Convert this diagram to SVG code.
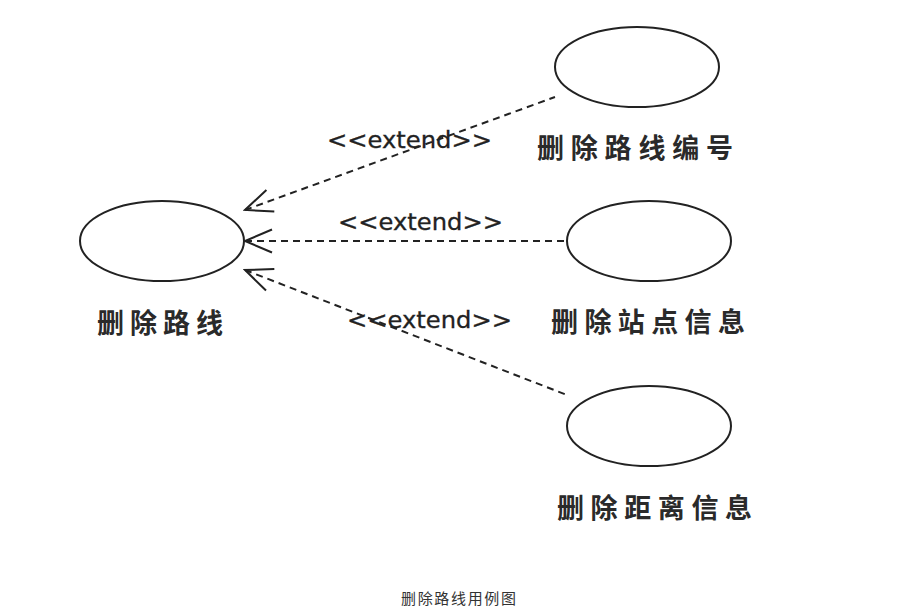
<svg xmlns="http://www.w3.org/2000/svg" width="916" height="616" viewBox="0 0 916 616">
<style>
.uc{fill:#fff;stroke:#222;stroke-width:2}
.lbl{font-family:"Noto Sans CJK SC","DejaVu Sans",sans-serif;font-size:27px;font-weight:bold;fill:#2a2a2a}
.ext{font-family:"DejaVu Sans","Liberation Sans",sans-serif;font-size:23px;fill:#222;stroke:#222;stroke-width:0.3}
.dep{stroke:#222;stroke-width:2;stroke-dasharray:7 5;fill:none}
.cap{font-family:"Noto Sans CJK SC",sans-serif;font-size:15px;fill:#333}
</style>
<defs>
<marker id="open" markerUnits="userSpaceOnUse" markerWidth="40" markerHeight="30" viewBox="-2 -15 40 30" refX="0" refY="0" orient="auto">
<path d="M27,-11.5 L0,0 L27,11.5" fill="none" stroke="#222" stroke-width="2"/>
</marker>
</defs>
<rect width="916" height="616" fill="#fff"/>
<g id="uc-main">
<ellipse class="uc" cx="162" cy="241" rx="82" ry="40"/>
<text class="lbl" x="97" y="333" textLength="126" lengthAdjust="spacing">删除路线</text>
</g>
<g id="uc-number">
<ellipse class="uc" cx="637" cy="67" rx="82" ry="40"/>
<text class="lbl" x="537" y="158" textLength="196" lengthAdjust="spacing">删除路线编号</text>
</g>
<g id="uc-station">
<ellipse class="uc" cx="649" cy="241" rx="82" ry="40"/>
<text class="lbl" x="551" y="332" textLength="194" lengthAdjust="spacing">删除站点信息</text>
</g>
<g id="uc-distance">
<ellipse class="uc" cx="649" cy="426" rx="82" ry="40"/>
<text class="lbl" x="557" y="518" textLength="195" lengthAdjust="spacing">删除距离信息</text>
</g>
<g id="connectors">
<path class="dep" d="M245,210 L555,97" marker-start="url(#open)"/>
<path class="dep" d="M245,241 L567,241" marker-start="url(#open)"/>
<path class="dep" d="M245,270 L567,395" marker-start="url(#open)"/>
<text class="ext" x="327" y="148" textLength="165" lengthAdjust="spacingAndGlyphs">&lt;&lt;extend&gt;&gt;</text>
<text class="ext" x="338" y="230" textLength="165" lengthAdjust="spacingAndGlyphs">&lt;&lt;extend&gt;&gt;</text>
<text class="ext" x="347" y="328" textLength="165" lengthAdjust="spacingAndGlyphs">&lt;&lt;extend&gt;&gt;</text>
</g>
<text class="cap" x="401" y="604" textLength="115" lengthAdjust="spacing">删除路线用例图</text>
</svg>
